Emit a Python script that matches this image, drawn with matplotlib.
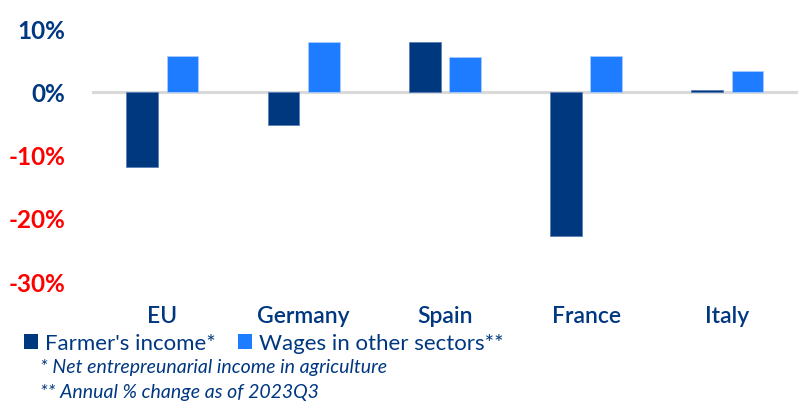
import matplotlib
matplotlib.use('Agg')
import matplotlib.pyplot as plt
import matplotlib.patches as mpatches
import numpy as np

plt.rcParams['font.family'] = ['Lato', 'DejaVu Sans']

countries = ['EU', 'Germany', 'Spain', 'France', 'Italy']
farmer_income = [-11.8, -5.2, 8.0, -22.7, 0.3]
wages_other = [5.7, 7.9, 5.5, 5.7, 3.3]
yticks = [10, 0, -10, -20, -30]

DARK = '#00387f'
LIGHT = '#1d7cff'
TEXT = '#003781'
RED = '#ff0000'

fig = plt.figure(figsize=(7.98, 4.03), dpi=100)
ax = fig.add_axes([0.115, 0.30, 0.885, 0.628])

x = np.arange(len(countries))
w = 0.225
off = 0.142
ax.bar(x - off, farmer_income, w, color=DARK, edgecolor='#5a7fb8', linewidth=0.6, zorder=3)
ax.bar(x + off, wages_other, w, color=LIGHT, edgecolor='#a8ccff', linewidth=0.6, zorder=3)
ax.axhline(0, color='#d9d9d9', lw=2.2, zorder=2)

ax.set_xlim(-0.5, len(countries) - 0.5)
ax.set_ylim(-30, 10)
ax.set_yticks(yticks)
ax.set_yticklabels([f'{v}%' for v in yticks], fontsize=17.5, fontweight='bold')
for lab, v in zip(ax.get_yticklabels(), yticks):
    lab.set_color(RED if v < 0 else TEXT)
ax.set_xticks(x)
ax.set_xticklabels(countries, fontsize=16.5, color=TEXT, fontweight='semibold')
ax.tick_params(axis='both', length=0)
ax.tick_params(axis='y', pad=19)
ax.tick_params(axis='x', pad=17)
for s in ax.spines.values():
    s.set_visible(False)

handles = [mpatches.Patch(facecolor=DARK, label="Farmer's income*"),
           mpatches.Patch(facecolor=LIGHT, label='Wages in other sectors**')]
fig.legend(handles=handles, loc='upper left', bbox_to_anchor=(0.03, 0.172), ncol=2,
           frameon=False, fontsize=16, labelcolor=TEXT, handlelength=0.65,
           handleheight=0.65, handletextpad=0.3, columnspacing=1.0,
           borderaxespad=0, borderpad=0)

fig.text(0.05, 0.087, '* Net entrepreunarial income in agriculture',
         fontsize=14, style='italic', color=TEXT, va='center')
fig.text(0.05, 0.027, '** Annual % change as of 2023Q3',
         fontsize=14, style='italic', color=TEXT, va='center')

fig.savefig('out.png', dpi=100, facecolor='white')
